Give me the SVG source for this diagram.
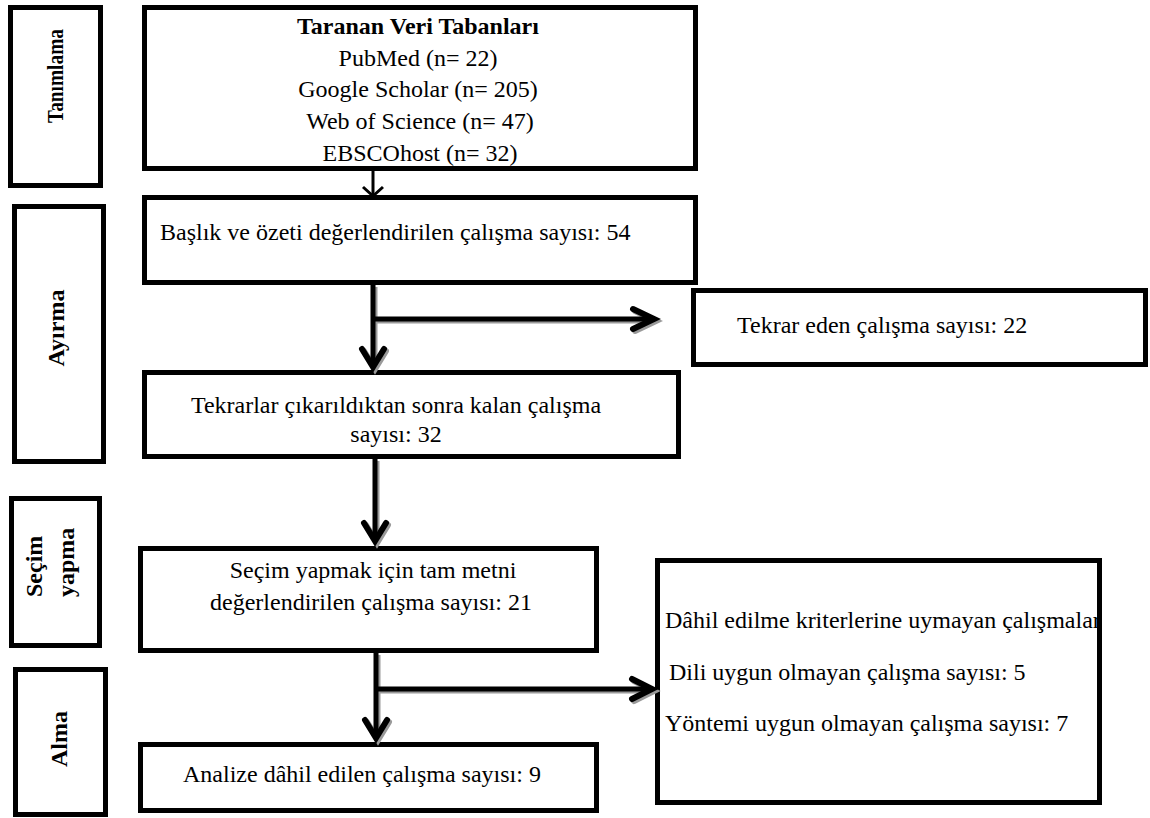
<svg xmlns="http://www.w3.org/2000/svg" width="1150" height="818" viewBox="0 0 1150 818">
<style>
  .box { fill: none; stroke: #000; stroke-width: 5; }
  .t { font-family: "Liberation Serif", "Times New Roman", serif; font-size: 24px; fill: #000; }
  .b { font-weight: bold; }
  .m { text-anchor: middle; }
  .ln { fill: none; stroke: #000; stroke-width: 5; stroke-linecap: butt; }
  .hd { fill: none; stroke: #000; stroke-width: 6; stroke-linejoin: miter; stroke-linecap: round; }
  .thin { fill: none; stroke: #000; stroke-width: 3; }
  .sh { stroke: #9a9a9a; }
</style>
<rect width="1150" height="818" fill="#fff"/>

<g id="label-tanimlama">
  <rect class="box" x="10.5" y="7.5" width="90" height="178"/>
  <text class="t b m" transform="translate(63,76) rotate(-90)" textLength="94" lengthAdjust="spacingAndGlyphs">Tanımlama</text>
</g>
<g id="label-ayirma">
  <rect class="box" x="14.5" y="206.5" width="89" height="255"/>
  <text class="t b m" transform="translate(64,328) rotate(-90)">Ayırma</text>
</g>
<g id="label-secim">
  <rect class="box" x="11.5" y="498.5" width="88" height="147"/>
  <text class="t b" transform="translate(42,597) rotate(-90)">Seçim</text>
  <text class="t b" transform="translate(74,597) rotate(-90)">yapma</text>
</g>
<g id="label-alma">
  <rect class="box" x="15.5" y="669.5" width="90" height="145"/>
  <text class="t b m" transform="translate(67,739) rotate(-90)">Alma</text>
</g>

<g id="node-taranan">
  <rect class="box" x="144.5" y="7.5" width="551" height="161"/>
  <text class="t b m" x="418" y="34">Taranan Veri Tabanları</text>
  <text class="t m" x="418" y="66">PubMed (n= 22)</text>
  <text class="t m" x="418" y="97">Google Scholar (n= 205)</text>
  <text class="t m" x="420" y="129">Web of Science (n= 47)</text>
  <text class="t m" x="420" y="161">EBSCOhost (n= 32)</text>
</g>
<g id="node-baslik">
  <rect class="box" x="144.5" y="197.5" width="551" height="85"/>
  <text class="t" x="160" y="240">Başlık ve özeti değerlendirilen çalışma sayısı: 54</text>
</g>
<g id="node-tekrar-eden">
  <rect class="box" x="693.5" y="290.5" width="452" height="74"/>
  <text class="t" x="737" y="333">Tekrar eden çalışma sayısı: 22</text>
</g>
<g id="node-tekrarlar">
  <rect class="box" x="144.5" y="372.5" width="534" height="84"/>
  <text class="t m" x="396" y="413">Tekrarlar çıkarıldıktan sonra kalan çalışma</text>
  <text class="t m" x="396" y="442">sayısı: 32</text>
</g>
<g id="node-secim">
  <rect class="box" x="140.5" y="548.5" width="456" height="102"/>
  <text class="t m" x="373" y="578">Seçim yapmak için tam metni</text>
  <text class="t m" x="371" y="610">değerlendirilen çalışma sayısı: 21</text>
</g>
<g id="node-dahil">
  <text class="t" x="665" y="628">Dâhil edilme kriterlerine uymayan çalışmalar</text>
  <text class="t" x="669" y="680">Dili uygun olmayan çalışma sayısı: 5</text>
  <text class="t" x="665" y="731">Yöntemi uygun olmayan çalışma sayısı: 7</text>
  <rect class="box" x="657.5" y="560.5" width="442" height="242"/>
</g>
<g id="node-analize">
  <rect class="box" x="140.5" y="744.5" width="456" height="66"/>
  <text class="t" x="183" y="782">Analize dâhil edilen çalışma sayısı: 9</text>
</g>

<g id="connectors">
  <g id="shadows" transform="translate(2,2)">
    <path class="ln sh" d="M373,285 V366 M373,319 H653 M375,459 V540 M376,653 V738 M376,689 H651"/>
    <path class="hd sh" d="M362,349 L373,367 L384,349 M633,309 L654,319 L633,329 M364,523 L375,541 L386,523 M365,720 L376,738 L387,720 M632,679 L652,689 L632,699"/>
  </g>
  <line class="thin" x1="373" y1="170" x2="373" y2="195"/>
  <path class="thin" d="M363,187 L373,196 L383,187"/>
  <path class="ln" d="M373,285 V366 M373,319 H653 M375,459 V540 M376,653 V738 M376,689 H651"/>
  <path class="hd" d="M362,349 L373,367 L384,349 M633,309 L654,319 L633,329 M364,523 L375,541 L386,523 M365,720 L376,738 L387,720 M632,679 L652,689 L632,699"/>
</g>
</svg>
